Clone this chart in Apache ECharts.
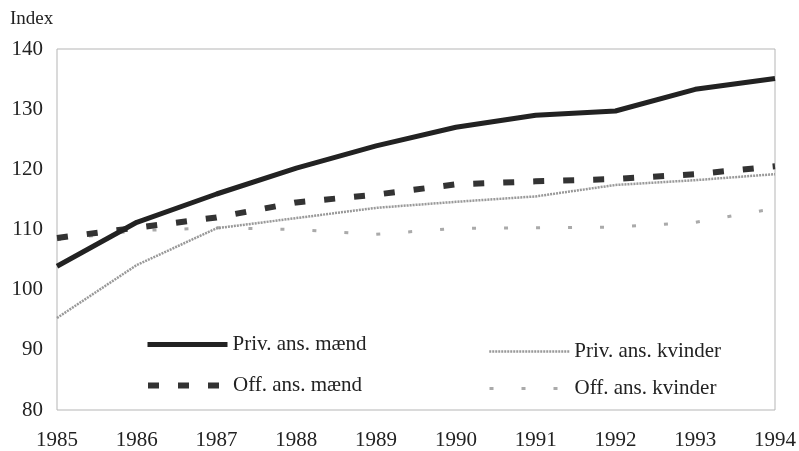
<!DOCTYPE html>
<html>
<head>
<meta charset="utf-8">
<script src="https://cdn.jsdelivr.net/npm/echarts@6/dist/echarts.min.js"></script>
<style>
  html, body { margin: 0; padding: 0; background: #fff; }
  #chart { width: 799px; height: 451px; }
</style>
</head>
<body>
<div id="chart"></div>
<script>
// aar
var years = ['1985', '1986', '1987', '1988', '1989', '1990', '1991', '1992', '1993', '1994'];
// index-serier
var privMaend   = [103.9, 111.2, 115.9, 120.2, 123.9, 127.0, 129.0, 129.7, 133.3, 135.1];
var offMaend    = [108.6, 110.3, 112.0, 114.5, 115.8, 117.5, 118.0, 118.4, 119.2, 120.5];
var privKvinder = [95.3, 104.1, 110.2, 111.9, 113.6, 114.6, 115.5, 117.4, 118.2, 119.2];
var offKvinder  = [108.3, 109.8, 110.3, 110.0, 109.2, 110.2, 110.3, 110.4, 111.2, 113.5];

var font = 'Liberation Serif';
var chart = echarts.init(document.getElementById('chart'));

var styles = {
  'Priv. ans. mænd':    { width: 5, color: '#222', type: 'solid' },
  'Off. ans. mænd':     { width: 6, color: '#333', type: [11, 19] },
  'Priv. ans. kvinder': { width: 2.5, color: '#999', type: [2, 1] },
  'Off. ans. kvinder':  { width: 3, color: '#aaa', type: [4, 28] }
};

function legendAt(name, left, top) {
  return {
    data: [name],
    left: left,
    top: top,
    padding: 0,
    itemWidth: 80,
    itemHeight: 14,
    itemGap: 0,
    itemStyle: { opacity: 0 },
    lineStyle: styles[name],
    textStyle: { fontFamily: font, fontSize: 21, color: '#222' }
  };
}

function lineSeries(name, data, z) {
  return {
    name: name, type: 'line', data: data, symbol: 'none',
    color: styles[name].color, lineStyle: styles[name], z: z
  };
}

chart.setOption({
  backgroundColor: '#fff',
  animation: false,
  grid: {
    left: 57, right: 20, top: 49, bottom: 41,
    show: true,
    borderColor: '#b5b5b5',
    borderWidth: 1
  },
  legend: [
    legendAt('Priv. ans. mænd', 145, 334),
    legendAt('Off. ans. mænd', 145, 375),
    legendAt('Priv. ans. kvinder', 488, 341),
    legendAt('Off. ans. kvinder', 488, 378)
  ],
  xAxis: {
    type: 'category',
    data: years,
    boundaryGap: false,
    axisLine: { show: false },
    axisTick: { show: false },
    axisLabel: { fontFamily: font, fontSize: 21, color: '#222', margin: 20 }
  },
  yAxis: {
    type: 'value',
    min: 80,
    max: 140,
    interval: 10,
    name: 'Index',
    nameLocation: 'end',
    nameGap: 20,
    nameTextStyle: { fontFamily: font, fontSize: 19, color: '#222', align: 'left', padding: [0, 0, 0, -47] },
    axisLine: { show: false },
    axisTick: { show: false },
    splitLine: { show: false },
    axisLabel: { fontFamily: font, fontSize: 21, color: '#222', margin: 14 }
  },
  series: [
    lineSeries('Priv. ans. mænd', privMaend, 5),
    lineSeries('Off. ans. mænd', offMaend, 4),
    lineSeries('Priv. ans. kvinder', privKvinder, 3),
    lineSeries('Off. ans. kvinder', offKvinder, 2)
  ]
});

window.addEventListener('resize', function () {
  chart.resize();
});
</script>
</body>
</html>
